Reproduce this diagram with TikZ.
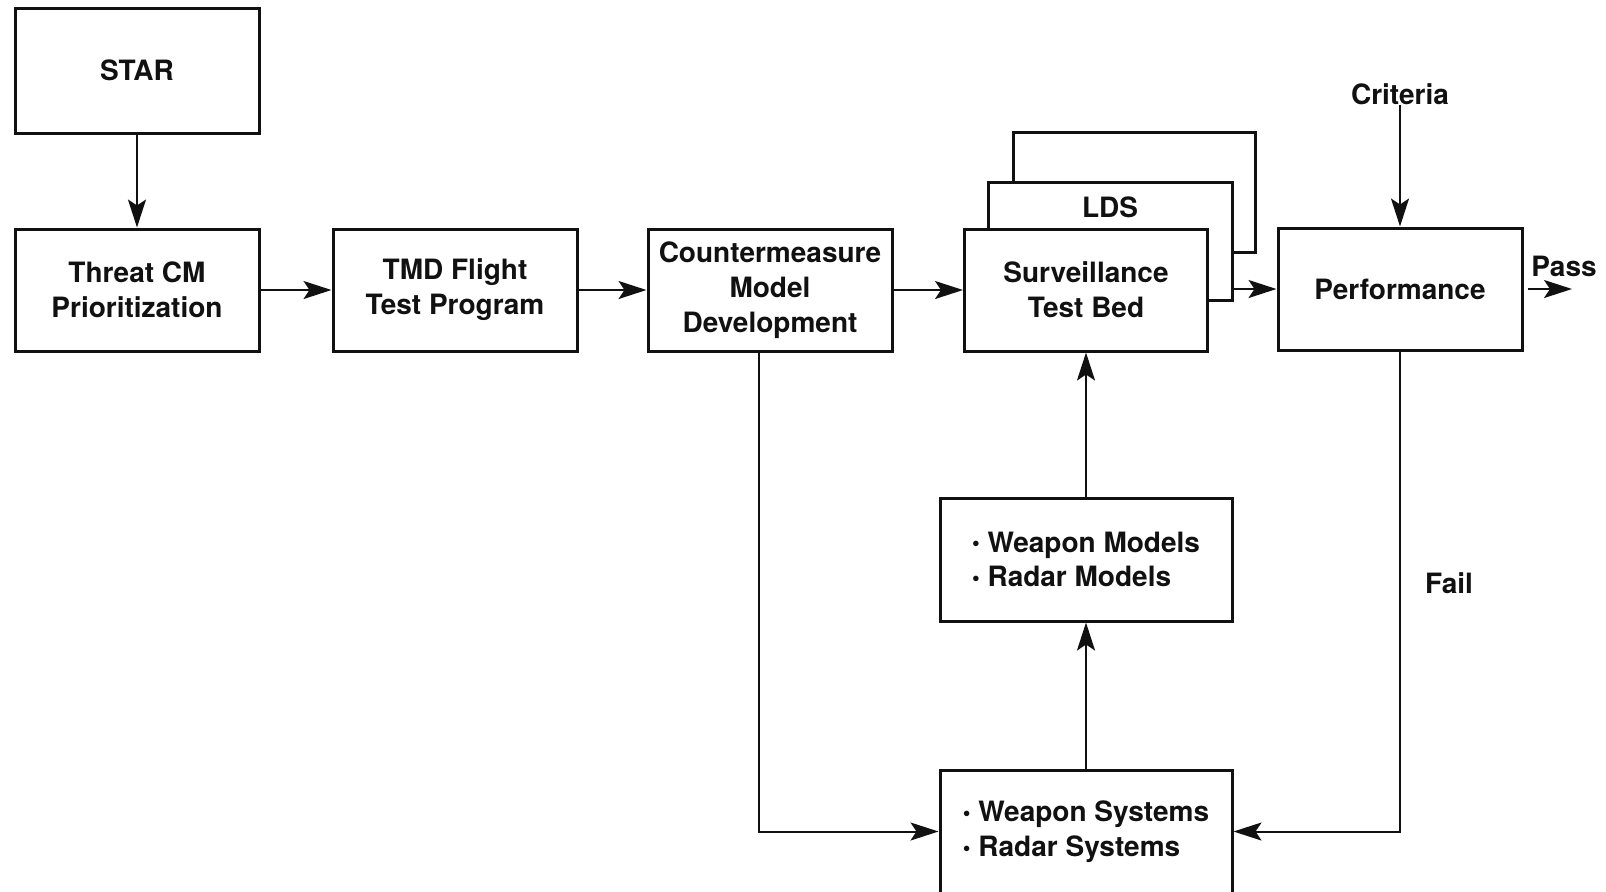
\documentclass[tikz,border=0pt]{standalone}
\usepackage{fontspec}
\setmainfont{TeX Gyre Heros}
\usepackage{tikz}
\usetikzlibrary{arrows.meta, positioning}
\usepackage{xcolor}
\definecolor{ink}{HTML}{111111}
\newcommand{\dotitem}{\raisebox{0.6pt}{\fontsize{11}{11}\selectfont\textbullet}\ }

\begin{document}
\begin{tikzpicture}[x=0.5pt, y=-0.5pt,
    block/.style={draw=ink, line width=1.5pt, fill=white, text=ink, align=center, inner sep=0pt,
        minimum width=122pt, minimum height=61pt, font=\fontsize{14}{17.4}\selectfont\bfseries},
    link/.style={draw=ink, line width=1pt, -{Stealth[length=14pt, width=9pt, inset=3pt]}},
    tag/.style={text=ink, inner sep=0pt, font=\fontsize{14}{17.4}\selectfont\bfseries}]
    \useasboundingbox (0,0) rectangle (1606,891);

    % 1. Top chain
    \node[block, minimum height=62.5pt] (star) at (137,70.5) {STAR};
    \node[block] (threat) at (137,290) {Threat CM\\Prioritization};
    \node[block] (flight) at (455,290) {TMD Flight\\Test Program};
    \node[block] (cmmodel) at (770,290) {Countermeasure\\Model\\Development};

    % 2. Stacked test beds
    \node[block, minimum width=121pt, minimum height=60pt] (ldsback) at (1134,192) {};
    \node[block, minimum width=122pt, minimum height=59pt] (lds) at (1110,241) {};
    \node[tag] (ldstag) at (1110,207) {LDS};
    \node[block, minimum width=121.5pt, minimum height=61pt] (survbed) at (1086,290) {Surveillance\\Test Bed};
    \node[block] (perf) at (1400,289) {Performance};

    % 3. Model and system boxes
    \node[block, align=left, minimum width=146pt, minimum height=61.5pt] (wmodels) at (1086,559.5)
        {\dotitem Weapon Models\\\dotitem Radar Models};
    \node[block, align=left, minimum width=146pt, minimum height=61.5pt] (wsystems) at (1086,831.5)
        {\dotitem Weapon Systems\\\dotitem Radar Systems};

    % 4. Labels
    \node[tag] (criteria) at (1400,94) {Criteria};
    \node[tag] (pass) at (1564,266) {Pass};
    \node[tag] (fail) at (1449,583) {Fail};
    \coordinate (passend) at (1572,289);

    % 5. Connectors
    \draw[link] (star) -- (threat);
    \draw[link] (threat) -- (flight);
    \draw[link] (flight) -- (cmmodel);
    \draw[link] (cmmodel) -- (survbed);
    \draw[link] (perf.west -| lds.east) -- (perf.west);
    \draw[link] (criteria) -- (perf);
    \draw[link, shorten <=2pt] (perf.east) -- (passend);
    \draw[link] (wsystems) -- (wmodels);
    \draw[link] (wmodels) -- (survbed);
    \draw[link] ([xshift=-5.5pt]cmmodel.south) |- (wsystems.west);
    \draw[link] (perf.south) |- (wsystems.east);
\end{tikzpicture}
\end{document}
